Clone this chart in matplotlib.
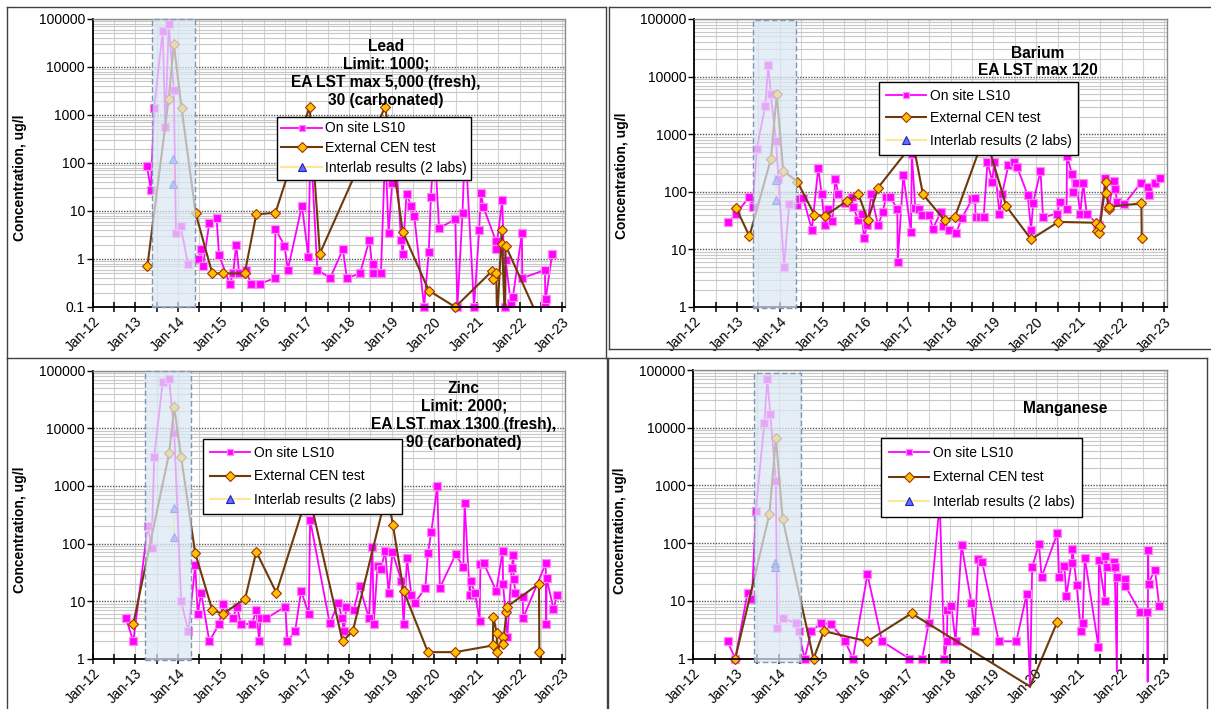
import matplotlib
matplotlib.use("Agg")
import matplotlib.pyplot as plt
import numpy as np
from matplotlib.lines import Line2D
from matplotlib.patches import Rectangle
from matplotlib.transforms import blended_transform_factory
from matplotlib.ticker import LogLocator, NullFormatter

plt.rcParams['font.family'] = ['Liberation Sans', 'DejaVu Sans']

# ---------------- data ----------------
year_ticks = list(range(2012, 2024))
year_labels = ['Jan-%02d' % (y - 2000) for y in year_ticks]
lead_yticks = [0.1, 1, 10, 100, 1000, 10000, 100000]
lead_ylabels = ['0.1', '1', '10', '100', '1000', '10000', '100000']
std_yticks = [1, 10, 100, 1000, 10000, 100000]
std_ylabels = ['1', '10', '100', '1000', '10000', '100000']
legend_labels = ['On site LS10', 'External CEN test', 'Interlab results (2 labs)']

# Lead
lead_site_t = [2013.27, 2013.36, 2013.44, 2013.64, 2013.70, 2013.78, 2013.90, 2013.95, 2014.06, 2014.23,
               2014.47, 2014.53, 2014.58, 2014.73, 2014.90, 2014.96, 2015.21, 2015.29, 2015.36, 2015.43,
               2015.58, 2015.71, 2015.91, 2016.26, 2016.28, 2016.49, 2016.57, 2016.90, 2017.05, 2017.10,
               2017.26, 2017.56, 2017.86, 2017.95, 2018.26, 2018.48, 2018.56, 2018.57, 2018.75, 2018.85,
               2018.93, 2019.01, 2019.10, 2019.22, 2019.26, 2019.35, 2019.45, 2019.53, 2019.76, 2019.87,
               2019.92, 2020.00, 2020.11, 2020.49, 2020.54, 2020.66, 2020.72, 2020.93, 2021.05, 2021.09,
               2021.15, 2021.44, 2021.45, 2021.59, 2021.66, 2021.67, 2021.79, 2021.84, 2022.05, 2022.06,
               2022.59, 2022.60, 2022.61, 2022.76]
lead_site_v = [87, 28, 1400, 57000, 550, 78000, 3300, 3.5, 4.8, 0.8,
               1.0, 1.6, 0.7, 5.6, 7.2, 1.2, 0.3, 0.5, 2.0, 0.5,
               0.6, 0.3, 0.3, 0.4, 4.2, 1.9, 0.6, 13, 1.1, 300,
               0.6, 0.4, 1.6, 0.4, 0.5, 2.5, 0.5, 0.8, 0.5, 200,
               3.4, 38, 150, 2.5, 1.3, 23, 13, 7.9, 0.1, 1.4,
               20, 300, 4.4, 6.7, 0.1, 9.2, 300, 0.1, 4.0, 24,
               12, 2.4, 1.6, 17, 0.1, 0.95, 0.12, 0.16, 3.4, 0.4,
               0.59, 0.12, 0.15, 1.3]
lead_cen_t = [2013.28, 2013.78, 2013.90, 2014.08, 2014.41, 2014.80, 2015.04, 2015.56, 2015.83, 2016.28,
              2017.08, 2017.32, 2018.85, 2019.26, 2019.87, 2020.49, 2021.36, 2021.38, 2021.45, 2021.47,
              2021.58, 2021.59, 2021.65, 2021.67, 2022.47]
lead_cen_v = [0.7, 2200, 30000, 1400, 9, 0.5, 0.5, 0.5, 8.5, 9.2,
              1500, 1.3, 1500, 3.7, 0.22, 0.1, 0.57, 0.38, 0.5, 0.05,
              4.0, 2.1, 0.05, 1.9, 0.05]
lead_lab_t = [2013.88, 2013.88]
lead_lab_v = [120, 36]

# Barium
barium_site_t = [2012.80, 2012.98, 2013.29, 2013.37, 2013.46, 2013.66, 2013.73, 2013.79, 2013.91, 2013.97,
                 2014.10, 2014.22, 2014.41, 2014.46, 2014.55, 2014.75, 2014.90, 2014.98, 2015.05, 2015.12,
                 2015.23, 2015.30, 2015.37, 2015.53, 2015.69, 2015.72, 2015.83, 2015.92, 2015.97, 2016.05,
                 2016.14, 2016.30, 2016.41, 2016.49, 2016.58, 2016.75, 2016.76, 2016.89, 2017.07, 2017.09,
                 2017.17, 2017.25, 2017.33, 2017.50, 2017.58, 2017.77, 2017.83, 2017.95, 2018.13, 2018.26,
                 2018.50, 2018.57, 2018.58, 2018.69, 2018.77, 2018.86, 2018.97, 2019.02, 2019.14, 2019.20,
                 2019.35, 2019.47, 2019.55, 2019.80, 2019.88, 2019.93, 2020.10, 2020.16, 2020.49, 2020.55,
                 2020.71, 2020.72, 2020.84, 2020.86, 2020.94, 2021.03, 2021.10, 2021.18, 2021.42, 2021.48,
                 2021.62, 2021.70, 2021.81, 2021.85, 2021.89, 2022.06, 2022.44, 2022.61, 2022.63, 2022.77,
                 2022.89]
barium_site_v = [30, 42, 82, 54, 550, 3100, 16000, 4900, 770, 165,
                 5, 61, 60, 75, 77, 22, 260, 91, 27, 50,
                 31, 167, 91, 63, 82, 54, 33, 41, 16, 27,
                 90, 26, 45, 82, 82, 50, 6, 195, 20, 455,
                 52, 50, 40, 40, 23, 44, 25, 22, 19.5, 35,
                 74, 77, 37, 36, 36, 333, 150, 333, 41, 91,
                 292, 325, 274, 88, 22, 65, 233, 36, 42, 67,
                 50, 420, 200, 98, 140, 42, 140, 42, 28, 27,
                 171, 54, 154, 110, 67, 61, 140, 122, 88, 140,
                 171]
barium_cen_t = [2012.98, 2013.29, 2013.79, 2013.93, 2014.08, 2014.41, 2014.81, 2015.05, 2015.57, 2015.84,
                2016.06, 2016.30, 2017.12, 2017.35, 2017.86, 2018.10, 2018.80, 2019.30, 2019.88, 2020.52,
                2021.41, 2021.42, 2021.48, 2021.49, 2021.63, 2021.64, 2021.70, 2021.71, 2022.46, 2022.47]
barium_cen_v = [52, 17, 365, 4900, 233, 150, 40, 38, 69, 91,
                32, 118, 700, 90, 32, 37, 1000, 56, 15, 30,
                29, 21, 19, 25, 150, 97, 50, 55, 63, 16]
barium_lab_t = [2013.91, 2013.91]
barium_lab_v = [160, 72]

# Zinc
zinc_site_t = [2012.78, 2012.95, 2013.29, 2013.38, 2013.44, 2013.64, 2013.79, 2013.91, 2014.07, 2014.24,
               2014.40, 2014.46, 2014.54, 2014.73, 2014.96, 2015.05, 2015.28, 2015.38, 2015.47, 2015.73,
               2015.83, 2015.90, 2015.93, 2016.06, 2016.51, 2016.56, 2016.74, 2016.88, 2017.06, 2017.09,
               2017.55, 2017.75, 2017.84, 2017.88, 2017.94, 2018.11, 2018.25, 2018.47, 2018.55, 2018.58,
               2018.67, 2018.75, 2018.85, 2018.93, 2019.02, 2019.23, 2019.28, 2019.36, 2019.46, 2019.54,
               2019.79, 2019.85, 2019.93, 2020.07, 2020.13, 2020.50, 2020.68, 2020.71, 2020.83, 2020.85,
               2020.95, 2021.06, 2021.08, 2021.16, 2021.45, 2021.60, 2021.61, 2021.71, 2021.81, 2021.85,
               2021.86, 2021.90, 2022.07, 2022.08, 2022.61, 2022.62, 2022.63, 2022.79, 2022.88]
zinc_site_v = [5, 2, 200, 85, 3200, 64000, 72000, 8200, 10, 3,
               42, 6, 14, 2, 4, 8.8, 5, 8, 4, 4,
               7, 2, 5, 5, 8, 2, 3, 15, 6, 260,
               4.1, 9.2, 5, 3, 8, 7, 18, 5, 88, 4,
               41, 36, 75, 14, 71, 22, 4, 55, 13, 9.2,
               17, 68, 160, 1000, 17, 65, 39, 500, 12.7, 22,
               14, 4.6, 44, 45, 15, 75, 19.6, 2.4, 37, 63,
               24, 14, 12, 5.1, 45, 4, 25, 7.3, 13]
zinc_cen_t = [2012.95, 2013.79, 2013.91, 2014.07, 2014.40, 2014.80, 2015.05, 2015.57, 2015.83, 2016.30,
              2017.05, 2017.85, 2018.09, 2018.89, 2019.03, 2019.28, 2019.85, 2020.49, 2021.37, 2021.38,
              2021.46, 2021.47, 2021.60, 2021.61, 2021.69, 2021.70, 2022.45, 2022.46]
zinc_cen_v = [4, 3700, 23000, 3200, 68, 7, 6, 11, 72, 14,
              800, 2, 3, 800, 210, 15, 1.3, 1.3, 1.7, 5.4,
              2.8, 1.3, 2.4, 1.8, 6.5, 8, 20, 1.3]
zinc_lab_t = [2013.91, 2013.91]
zinc_lab_v = [410, 130]

# Manganese
mn_site_t = [2012.80, 2012.98, 2013.27, 2013.37, 2013.46, 2013.66, 2013.73, 2013.80, 2013.93, 2013.96,
             2014.09, 2014.41, 2014.46, 2014.60, 2014.76, 2014.98, 2015.22, 2015.55, 2015.73, 2016.07,
             2016.41, 2017.05, 2017.35, 2017.50, 2017.76, 2017.87, 2017.93, 2017.94, 2018.03, 2018.13,
             2018.27, 2018.50, 2018.58, 2018.66, 2018.75, 2019.14, 2019.55, 2019.79, 2019.87, 2019.92,
             2020.08, 2020.14, 2020.51, 2020.55, 2020.67, 2020.72, 2020.84, 2020.86, 2020.96, 2021.06,
             2021.10, 2021.15, 2021.47, 2021.48, 2021.62, 2021.63, 2021.68, 2021.84, 2021.85, 2021.90,
             2021.91, 2022.09, 2022.10, 2022.44, 2022.61, 2022.62, 2022.63, 2022.64, 2022.79, 2022.89]
mn_site_v = [2, 1, 14, 11, 360, 12000, 70000, 17000, 1200, 3.4,
             5, 4.1, 3, 1, 3, 4.1, 4, 2, 1, 29,
             2, 1, 1, 4.1, 500, 1, 2, 7, 8.3, 2,
             94, 9.1, 3, 53, 48, 2, 2, 13, 0.32, 38,
             97, 26, 149, 26, 41, 12.3, 46, 79, 19, 3,
             4.1, 56, 1.6, 52, 10, 61, 38, 47, 38, 0.6,
             26, 24, 18, 6.5, 6.5, 0.4, 76, 20, 35, 8.3]
mn_cen_t = [2012.98, 2013.78, 2013.93, 2014.09, 2014.81, 2015.05, 2016.07, 2017.10, 2019.87, 2020.51]
mn_cen_v = [1, 320, 6600, 260, 1, 3, 2, 6.1, 0.33, 4.4]
mn_lab_t = [2013.92, 2013.92]
mn_lab_v = [45, 38]

# ---------------- styles ----------------
W, H = 1211, 709
fig = plt.figure(figsize=(W / 100, H / 100), dpi=100)


def fx(x):
    return x / W


def fy(y):
    return 1 - y / H


SITE = dict(color='#ff00ff', lw=1.3, marker='s', ms=5.5, mfc='#ff00ff', mec='#ff8cf0', mew=0.9)
CEN = dict(color='#6e3a0c', lw=1.5, marker='D', ms=5.2, mfc='#ffc000', mec='#a03000', mew=0.8)
LAB = dict(color='#ffe699', lw=1.5, marker='^', ms=6, mfc='#5f70ff', mec='#2020c0', mew=0.8)

panels = [
    dict(box=(92.7, 19, 565, 307), ylim=(0.1, 100000), yt=lead_yticks, yl=lead_ylabels,
         series=[(lead_site_t, lead_site_v), (lead_cen_t, lead_cen_v), (lead_lab_t, lead_lab_v)],
         shade=(2013.38, 2014.39, 0.0, 1.0),
         title='Lead\nLimit: 1000;\nEA LST max 5,000 (fresh),\n30 (carbonated)', title_xy=(385.7, 39),
         leg=(277, 117), ls=0.42, bp=0.32, ylab=(20, 177.5), clip=True),
    dict(box=(694.3, 19, 1167, 307), ylim=(1, 100000), yt=std_yticks, yl=std_ylabels,
         series=[(barium_site_t, barium_site_v), (barium_cen_t, barium_cen_v), (barium_lab_t, barium_lab_v)],
         shade=(2013.37, 2014.37, -0.005, 0.995),
         title='Barium\nEA LST max 120', title_xy=(1037.7, 45.5),
         leg=(879, 82), ls=0.6, bp=0.5, ylab=(622, 176), clip=True),
    dict(box=(92.7, 370.7, 565, 658.7), ylim=(1, 100000), yt=std_yticks, yl=std_ylabels,
         series=[(zinc_site_t, zinc_site_v), (zinc_cen_t, zinc_cen_v), (zinc_lab_t, zinc_lab_v)],
         shade=(2013.22, 2014.30, -0.005, 1.0),
         title='Zinc\nLimit: 2000;\nEA LST max 1300 (fresh),\n90 (carbonated)', title_xy=(464, 381),
         leg=(203, 439), ls=0.68, bp=0.5, ylab=(20, 530), clip=True),
    dict(box=(693.3, 370, 1166.5, 658.7), ylim=(1, 100000), yt=std_yticks, yl=std_ylabels,
         series=[(mn_site_t, mn_site_v), (mn_cen_t, mn_cen_v), (mn_lab_t, mn_lab_v)],
         shade=(2013.43, 2014.52, -0.012, 0.99),
         title='Manganese', title_xy=(1065, 401),
         leg=(881, 438), ls=0.76, bp=0.57, ylab=(620, 530.5), clip=False),
]

for p in panels:
    l, t, r, b = p['box']
    ax = fig.add_axes([fx(l), fy(b), (r - l) / W, (b - t) / H])
    ax.set_yscale('log')
    ax.set_xlim(2012.0, 2023.06)
    ax.set_ylim(*p['ylim'])
    ymin = p['ylim'][0]
    ax.set_axisbelow(True)

    for k, ((tt, vv), st) in enumerate(zip(p['series'], [SITE, CEN, LAB])):
        tt = np.asarray(tt, float)
        vv = np.asarray(vv, float)
        z = 2 + 0.2 * k
        ax.plot(tt, vv, color=st['color'], lw=st['lw'], zorder=z, clip_on=p['clip'])
        m = vv >= ymin * 0.999
        ax.plot(tt[m], vv[m], ls='none', marker=st['marker'], ms=st['ms'], mfc=st['mfc'],
                mec=st['mec'], mew=st['mew'], zorder=z + 0.1, clip_on=False)

    x0, x1, y0, y1 = p['shade']
    tr = blended_transform_factory(ax.transData, ax.transAxes)
    ax.add_patch(Rectangle((x0, y0), x1 - x0, y1 - y0, transform=tr,
                           facecolor=(0.86, 0.91, 0.96, 0.72), edgecolor='#8096b0',
                           linestyle=(0, (4, 2)), lw=1.0, zorder=4, clip_on=False))

    ax.set_xticks(year_ticks)
    ax.set_xticklabels(year_labels, rotation=45, ha='right', rotation_mode='anchor')
    ax.set_xticks(np.arange(2012.5, 2023, 1.0), minor=True)
    ax.set_yticks(p['yt'])
    ax.set_yticklabels(p['yl'])
    ax.yaxis.set_minor_locator(LogLocator(base=10, subs=np.arange(2, 10)))
    ax.yaxis.set_minor_formatter(NullFormatter())

    ax.tick_params(axis='x', which='both', direction='inout', length=7, width=1.1,
                   pad=2, labelsize=10)
    ax.tick_params(axis='y', which='major', direction='out', length=4, width=1,
                   pad=1.5, labelsize=10)
    ax.tick_params(axis='y', which='minor', length=0)

    ax.xaxis.grid(True, which='both', color='#d2d2d2', lw=0.8)
    ax.yaxis.grid(True, which='minor', color='#c8c8c8', lw=0.8)
    ax.yaxis.grid(True, which='major', color='#5a5a5a', lw=1.0, ls=(0, (1, 1)))

    for side in ('left', 'bottom'):
        ax.spines[side].set_color('black')
        ax.spines[side].set_linewidth(1.3)
    for side in ('top', 'right'):
        ax.spines[side].set_color('#8a8a8a')
        ax.spines[side].set_linewidth(1.0)

    handles = [Line2D([], [], color=st['color'], lw=st['lw'], marker=st['marker'], ms=st['ms'] * 0.9,
                      mfc=st['mfc'], mec=st['mec'], mew=st['mew']) for st in (SITE, CEN, LAB)]
    lg = ax.legend(handles, legend_labels, loc='upper left',
                   bbox_to_anchor=(fx(p['leg'][0]), fy(p['leg'][1])), bbox_transform=fig.transFigure,
                   borderaxespad=0, fontsize=10, frameon=True, fancybox=False, shadow=False,
                   framealpha=1.0, labelspacing=p['ls'], borderpad=p['bp'],
                   handlelength=2.9, handletextpad=0.25)
    lg.get_frame().set_edgecolor('black')
    lg.get_frame().set_facecolor('white')
    lg.get_frame().set_linewidth(1.0)
    lg.set_zorder(6)

    ax.text(fx(p['title_xy'][0]), fy(p['title_xy'][1]), p['title'], transform=fig.transFigure,
            ha='center', va='top', fontsize=11.2, fontweight='bold', linespacing=1.24,
            multialignment='center', zorder=5, clip_on=False)

    fig.text(fx(p['ylab'][0]), fy(p['ylab'][1]), 'Concentration, ug/l', rotation=90,
             ha='center', va='center', fontsize=10, fontweight='bold')

# panel frames
frame_segments = [
    ((7, 7), (606, 7)), ((7, 7), (7, 358)), ((606, 7), (606, 358)), ((7, 358), (606, 358)),
    ((609, 7), (1211, 7)), ((609, 7), (609, 349)), ((609, 349), (1211, 349)),
    ((7, 358), (7, 709)), ((607, 358), (607, 709)),
    ((608, 358), (1207, 358)), ((608, 358), (608, 709)), ((1207, 358), (1207, 709)),
]
for (xa, ya), (xb, yb) in frame_segments:
    fig.add_artist(Line2D([fx(xa), fx(xb)], [fy(ya), fy(yb)], transform=fig.transFigure,
                          color='#404040', lw=1.0))

fig.savefig('out.png', dpi=100)
